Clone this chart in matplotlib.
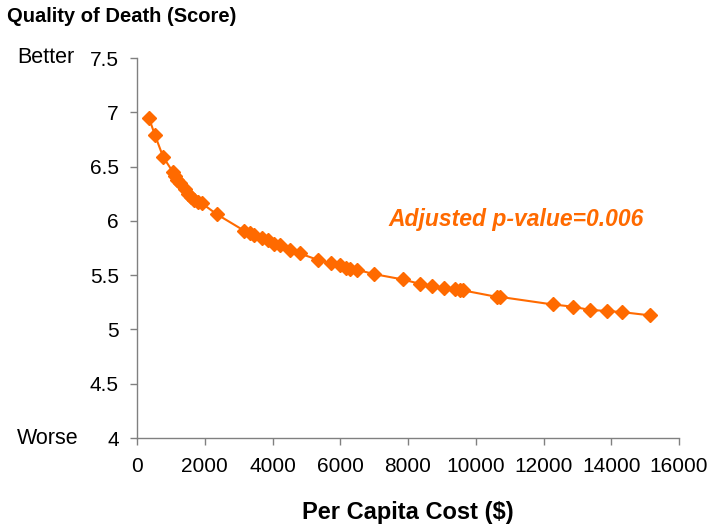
import matplotlib
matplotlib.use("Agg")
import matplotlib.pyplot as plt

cost = [350, 530, 770, 1060, 1120, 1180, 1270, 1420, 1500, 1590, 1680, 1800, 1920,
        2360, 3160, 3330, 3450, 3690, 3860, 4040, 4220, 4510, 4810, 5340, 5720,
        5990, 6170, 6280, 6490, 6990, 7850, 8350, 8700, 9060, 9380, 9530, 9620,
        10620, 10710, 12270, 12860, 13360, 13860, 14310, 15130]
score = [6.95, 6.79, 6.59, 6.45, 6.41, 6.38, 6.35, 6.29, 6.25, 6.22, 6.19, 6.17, 6.16,
         6.06, 5.91, 5.89, 5.87, 5.84, 5.82, 5.79, 5.78, 5.73, 5.70, 5.64, 5.61,
         5.59, 5.57, 5.56, 5.55, 5.51, 5.46, 5.42, 5.40, 5.38, 5.37, 5.36, 5.36,
         5.30, 5.30, 5.23, 5.21, 5.18, 5.17, 5.16, 5.13]
xticks = [0, 2000, 4000, 6000, 8000, 10000, 12000, 14000, 16000]
yticks = [4, 4.5, 5, 5.5, 6, 6.5, 7, 7.5]
ytick_labels = ["4", "4.5", "5", "5.5", "6", "6.5", "7", "7.5"]

plt.rcParams['font.family'] = ['Liberation Sans', 'DejaVu Sans']
orange = '#FF6A00'

fig = plt.figure(figsize=(7.12, 5.26), dpi=100)
ax = fig.add_axes([137/712, 1-438/526, (679-137)/712, (438-58)/526])
ax.plot(cost, score, color=orange, lw=1.5, marker='D', markersize=7,
        markerfacecolor=orange, markeredgecolor=orange)
ax.set_xlim(0, 16000)
ax.set_ylim(4, 7.5)
ax.set_xticks(xticks)
ax.set_xticklabels([str(t) for t in xticks])
ax.set_yticks(yticks)
ax.set_yticklabels(ytick_labels)
for s in ['top', 'right']:
    ax.spines[s].set_visible(False)
for s in ['left', 'bottom']:
    ax.spines[s].set_color('#808080')
    ax.spines[s].set_linewidth(1)
ax.tick_params(axis='both', colors='#808080', labelcolor='black', labelsize=15,
               length=5, width=1, direction='out')
ax.tick_params(axis='x', pad=9)
ax.tick_params(axis='y', pad=8)

ax.text(11200, 6.01, "Adjusted p-value=0.006", color=orange, fontsize=16.5,
        fontweight='bold', fontstyle='italic', ha='center', va='center')

fig.text(7/712, 1-17/526, "Quality of Death (Score)", fontsize=14.5,
         fontweight='bold', ha='left', va='center')
fig.text(17/712, 1-58/526, "Better", fontsize=15.5, ha='left', va='center')
fig.text(17/712, 1-438/526, "Worse", fontsize=15.5, ha='left', va='center')
ax.set_xlabel("Per Capita Cost ($)", fontsize=17, fontweight='bold', labelpad=18)

fig.savefig("out.png", dpi=100, facecolor='white')
